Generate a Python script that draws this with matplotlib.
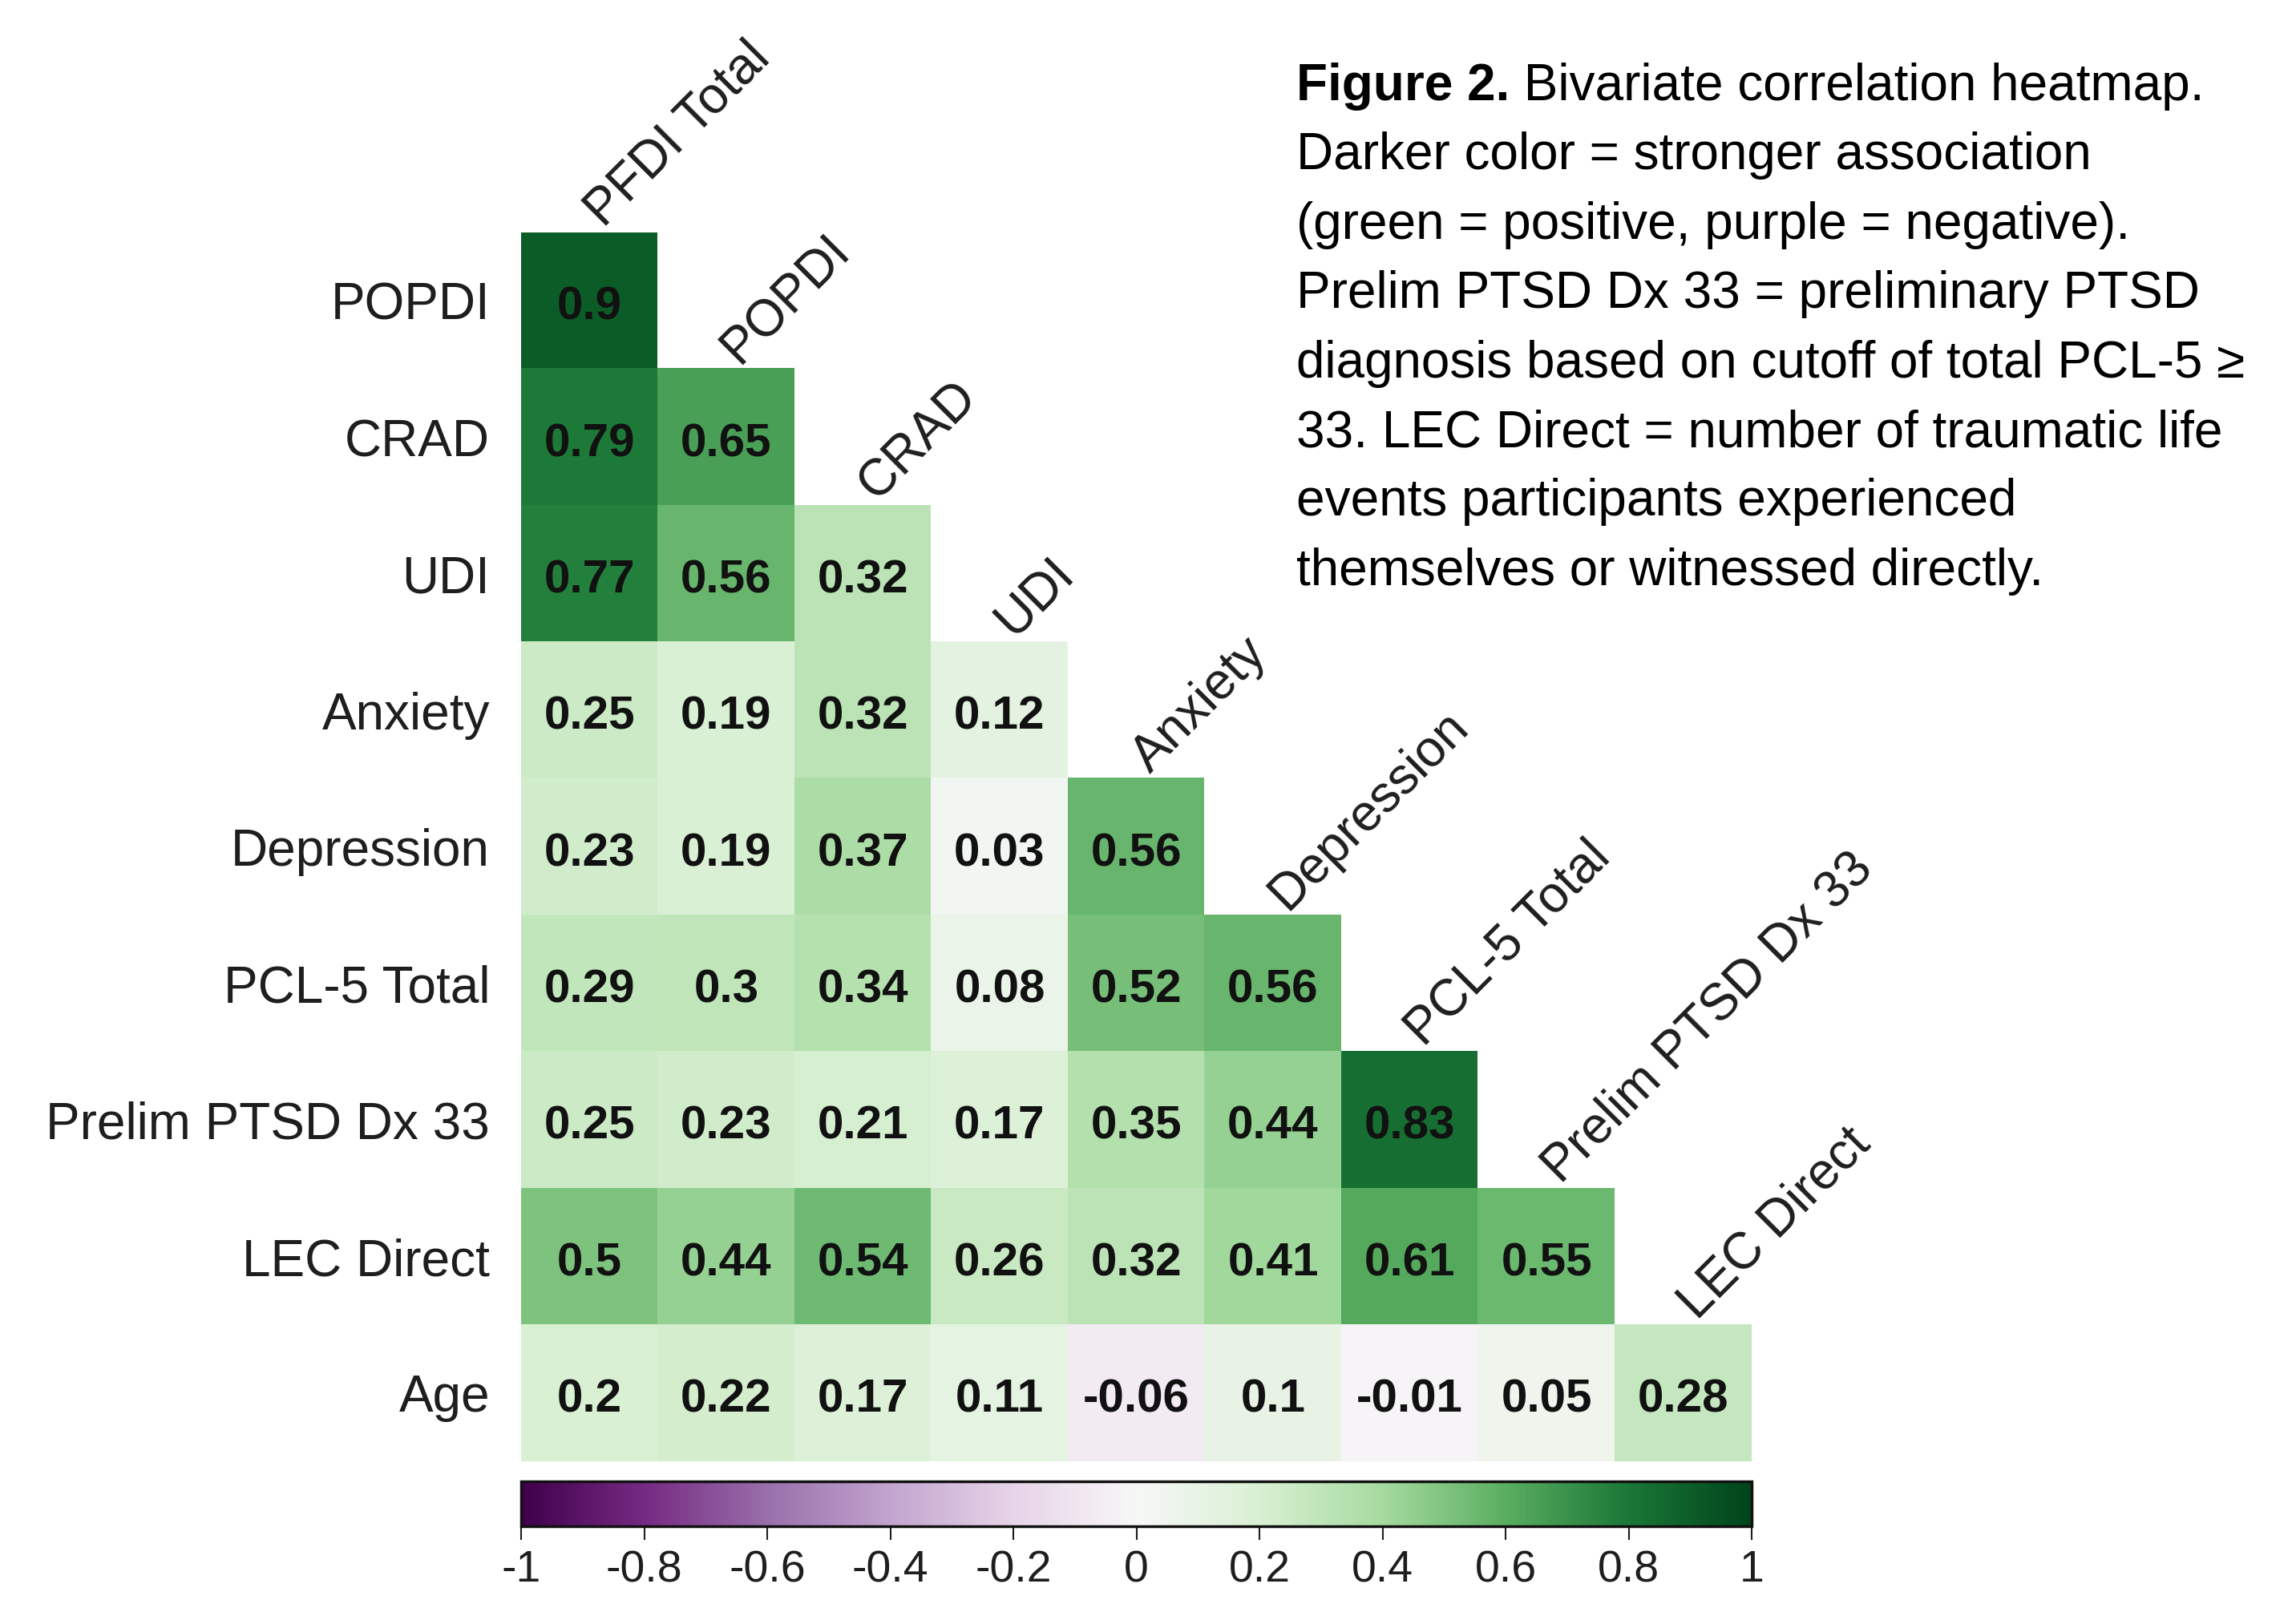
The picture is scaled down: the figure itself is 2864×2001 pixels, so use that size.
import numpy as np
import matplotlib
matplotlib.use("Agg")
import matplotlib.pyplot as plt

plt.rcParams["font.family"] = ["Liberation Sans", "DejaVu Sans"]

# variables along the columns (top, diagonal) and rows (left)
col_labels = ["PFDI Total", "POPDI", "CRAD", "UDI", "Anxiety", "Depression",
              "PCL-5 Total", "Prelim PTSD Dx 33", "LEC Direct"]
row_labels = ["POPDI", "CRAD", "UDI", "Anxiety", "Depression", "PCL-5 Total",
              "Prelim PTSD Dx 33", "LEC Direct", "Age"]

# lower-triangle correlations, one list per row
r_popdi = [0.9]
r_crad = [0.79, 0.65]
r_udi = [0.77, 0.56, 0.32]
r_anxiety = [0.25, 0.19, 0.32, 0.12]
r_depression = [0.23, 0.19, 0.37, 0.03, 0.56]
r_pcl5 = [0.29, 0.3, 0.34, 0.08, 0.52, 0.56]
r_prelim = [0.25, 0.23, 0.21, 0.17, 0.35, 0.44, 0.83]
r_lec = [0.5, 0.44, 0.54, 0.26, 0.32, 0.41, 0.61, 0.55]
r_age = [0.2, 0.22, 0.17, 0.11, -0.06, 0.1, -0.01, 0.05, 0.28]
corr_rows = [r_popdi, r_crad, r_udi, r_anxiety, r_depression, r_pcl5,
             r_prelim, r_lec, r_age]

cbar_ticks = [-1, -0.8, -0.6, -0.4, -0.2, 0, 0.2, 0.4, 0.6, 0.8, 1]
cbar_ticklabels = ["-1", "-0.8", "-0.6", "-0.4", "-0.2", "0",
                   "0.2", "0.4", "0.6", "0.8", "1"]

caption_bold = "Figure 2."
caption_lines = [
    " Bivariate correlation heatmap.",
    "Darker color = stronger association",
    "(green = positive, purple = negative).",
    "Prelim PTSD Dx 33 = preliminary PTSD",
    "diagnosis based on cutoff of total PCL-5 \u2265",
    "33. LEC Direct = number of traumatic life",
    "events participants experienced",
    "themselves or witnessed directly.",
]

n = len(row_labels)
mat = np.full((n, n), np.nan)
for i, vals in enumerate(corr_rows):
    mat[i, :len(vals)] = vals

W, H = 2864, 2001
fig = plt.figure(figsize=(W / 100, H / 100), dpi=100)
fig.patch.set_facecolor("white")

ax = fig.add_axes([650 / W, 1 - 1823 / H, 1535 / W, 1533 / H])
im = ax.imshow(np.ma.masked_invalid(mat), cmap="PRGn", vmin=-1, vmax=1,
               aspect="auto", interpolation="nearest")
for s in ax.spines.values():
    s.set_visible(False)
ax.set_xticks([])
ax.set_yticks(range(n))
ax.set_yticklabels(row_labels, fontsize=46, color="#1e1e1e")
ax.tick_params(axis="y", length=0, pad=28)

for i, vals in enumerate(corr_rows):
    for j, v in enumerate(vals):
        ax.text(j, i + 0.05, f"{v:g}", ha="center", va="center", fontsize=42,
                fontweight="bold", color="#111111")

# slanted column names sitting on top of each diagonal cell
for j, lab in enumerate(col_labels):
    ax.text(j + 0.1, j - 0.53, lab, rotation=45, rotation_mode="anchor",
            ha="left", va="baseline", fontsize=46, color="#1e1e1e")

cax = fig.add_axes([650 / W, 1 - 1904 / H, 1535 / W, 56 / H])
cb = fig.colorbar(im, cax=cax, orientation="horizontal", ticks=cbar_ticks)
cb.ax.set_xticklabels(cbar_ticklabels)
cb.ax.tick_params(length=12, width=1.5, pad=9, labelsize=40,
                  colors="#1e1e1e")
cb.outline.set_linewidth(2.5)
cb.outline.set_edgecolor("#111111")

# caption block on the right
x0 = 1617 / W
line_h = 86.4
y_first = 125
t = fig.text(x0, 1 - y_first / H, caption_bold, fontsize=46,
             fontweight="bold", va="baseline", ha="left")
renderer = fig.canvas.get_renderer()
bb = t.get_window_extent(renderer)
fig.text(bb.x1 / W, 1 - y_first / H, caption_lines[0], fontsize=46,
         va="baseline", ha="left")
for k, line in enumerate(caption_lines[1:], start=1):
    fig.text(x0, 1 - (y_first + k * line_h) / H, line, fontsize=46,
             va="baseline", ha="left")

fig.savefig("out.png", dpi=100, facecolor="white")
